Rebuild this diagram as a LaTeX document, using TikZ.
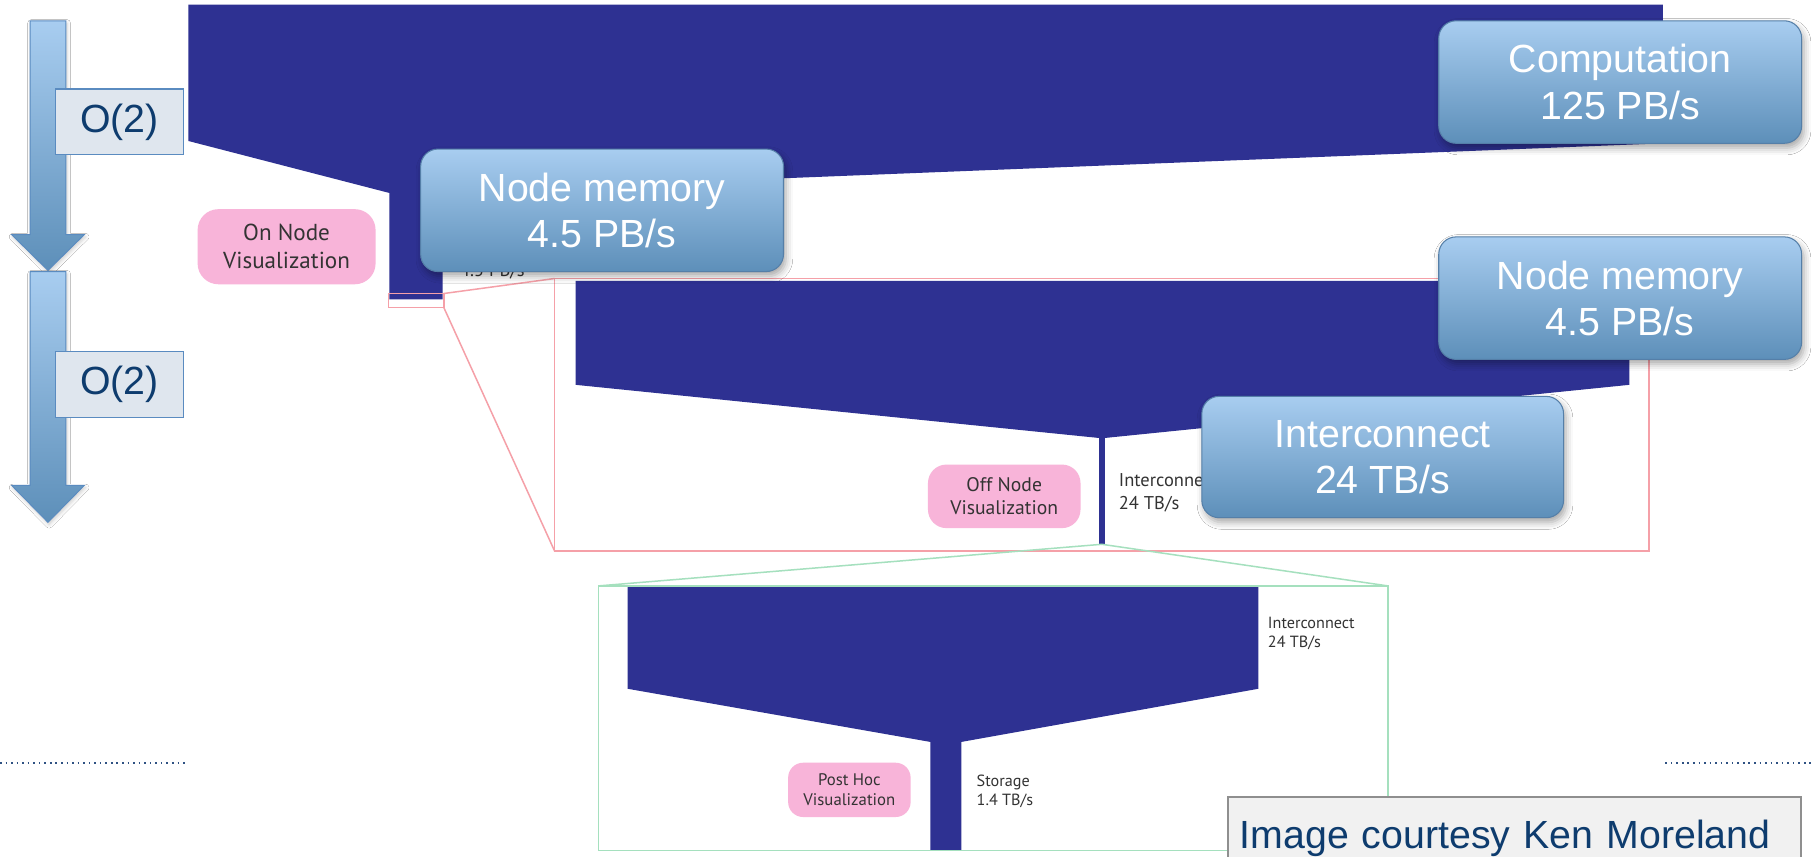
\documentclass[tikz,border=0pt]{standalone}
\usepackage{fontspec}
\setmainfont{Liberation Sans}
\newfontfamily\lblfont{PT Sans}
\usetikzlibrary{shadows.blur}

\definecolor{navyc}{HTML}{2E3192}
\definecolor{boxtop}{HTML}{A8CDF0}
\definecolor{boxbot}{HTML}{5D8FB9}
\definecolor{boxline}{HTML}{557FA8}
\definecolor{pinkc}{HTML}{F8B4D9}
\definecolor{lbltext}{HTML}{333333}
\definecolor{redline}{HTML}{F5A0A8}
\definecolor{greenline}{HTML}{A5E0BE}
\definecolor{otext}{HTML}{0E3C6E}
\definecolor{ofill}{HTML}{DFE6EE}
\definecolor{oline}{HTML}{5A8BC0}
\definecolor{notefill}{HTML}{F1F1F1}
\definecolor{noteline}{HTML}{8F8F8F}
\definecolor{dotc}{HTML}{2F5283}

\tikzset{
  funnel/.style={fill=navyc, draw=none},
  zoomred/.style={draw=redline, line width=1.3pt},
  zoomgreen/.style={draw=greenline, line width=1.3pt},
  bluebox/.style={rectangle, rounded corners=15pt, top color=boxtop, bottom color=boxbot,
    draw=boxline, line width=0.9pt, text=white, align=center, inner sep=0pt,
    minimum width=314pt, minimum height=106pt,
    font=\fontsize{34}{40}\selectfont,
    blur shadow={shadow xshift=2pt, shadow yshift=-4pt, shadow blur radius=6pt, shadow opacity=35}},
  pinkbox/.style={rectangle, rounded corners=18pt, fill=pinkc, draw=none,
    text=lbltext, align=center, inner sep=0pt},
  smalllbl/.style={font=\lblfont, text=lbltext, inner sep=0pt, align=left, anchor=north west},
  downarrow/.style={top color=boxtop, bottom color=boxbot, draw=oline, line width=0.8pt,
    blur shadow={shadow xshift=1pt, shadow yshift=-2pt, shadow blur radius=3pt, shadow opacity=20}},
  orderbox/.style={rectangle, fill=ofill, draw=oline, line width=1pt, text=otext,
    minimum width=111pt, minimum height=57pt, inner sep=0pt,
    font=\fontsize{34}{40}\selectfont},
  dotline/.style={draw=dotc, line width=1.4pt, dash pattern=on 1.4pt off 3.4pt},
  notebox/.style={rectangle, fill=notefill, draw=noteline, line width=1.5pt, text=otext,
    anchor=north west, align=left, inner xsep=10pt, inner ysep=14pt,
    text width=476pt, minimum height=72pt, font=\fontsize{34}{40}\selectfont}
}

\begin{document}
\begin{tikzpicture}[x=1pt, y=-1pt]
\path[use as bounding box, fill=white] (0,0) rectangle (1568,741);

% bandwidth funnels
\path[funnel] (163,4) -- (1439,4) -- (1439,124) -- (383,166) -- (383,259)
  -- (337,259) -- (337,167) -- (163,122) -- cycle;
\path[funnel] (498,243) -- (1410,243) -- (1410,333) -- (956,379) -- (956,471)
  -- (951,471) -- (951,379) -- (498,333) -- cycle;
\path[funnel] (543,507) -- (1089,507) -- (1089,596) -- (832,642) -- (832,736)
  -- (805,736) -- (805,642) -- (543,596) -- cycle;

% zoom frames
\coordinate (sTL) at (336,254);
\coordinate (sTR) at (384,254);
\coordinate (sBR) at (384,266);
\coordinate (mTL) at (480,241);
\coordinate (mBL) at (480,477);
\coordinate (mBR) at (1427,477);
\coordinate (apex) at (953.5,471);
\coordinate (gTL) at (518,507);
\coordinate (gTR) at (1201,507);
\coordinate (gBR) at (1201,736);
\draw[zoomred] (sTL) rectangle (sBR);
\draw[zoomred] (mTL) rectangle (mBR);
\draw[zoomred] (sTR) -- (mTL);
\draw[zoomred] (sBR) -- (mBL);
\draw[zoomgreen] (gTL) rectangle (gBR);
\draw[zoomgreen] (apex) -- (gTL);
\draw[zoomgreen] (apex) -- (gTR);

% small bandwidth labels
\node[smalllbl, font=\lblfont\fontsize{16}{20}\selectfont] (nmsmall) at (398,228) {4.5 PB/s};
\node[smalllbl, font=\lblfont\fontsize{16}{20}\selectfont] (icmid) at (968,409.5) {Interconnect\\24 TB/s};
\node[smalllbl, font=\lblfont\fontsize{14}{16.5}\selectfont] (iclow) at (1097,533.5) {Interconnect\\24 TB/s};
\node[smalllbl, font=\lblfont\fontsize{14}{17}\selectfont] (storage) at (845,670) {Storage\\1.4 TB/s};

% visualization stages
\node[pinkbox, minimum width=154pt, minimum height=65pt,
  font=\lblfont\fontsize{20}{24}\selectfont] (onnode) at (248,213.5) {On Node\\Visualization};
\node[pinkbox, minimum width=132pt, minimum height=55pt, rounded corners=16pt,
  font=\lblfont\fontsize{17}{19.5}\selectfont] (offnode) at (869,429.5) {Off Node\\Visualization};
\node[pinkbox, minimum width=106pt, minimum height=47pt, rounded corners=13pt,
  font=\lblfont\fontsize{14.5}{17}\selectfont] (posthoc) at (735,683.5) {Post Hoc\\Visualization};

% order-of-magnitude arrows
\path[downarrow] (26,18) -- (57,18) -- (57,203) -- (73,203) -- (41.5,234)
  -- (10,203) -- (26,203) -- cycle;
\path[downarrow] (26,235) -- (57,235) -- (57,420) -- (73,420) -- (41.5,452)
  -- (10,420) -- (26,420) -- cycle;
\node[orderbox] (o1) at (103.5,105.5) {O(2)};
\node[orderbox] (o2) at (103.5,332.5) {O(2)};

% bandwidth callouts
\node[bluebox] (comp) at (1402,71) {Computation\\125 PB/s};
\node[bluebox] (nodemem1) at (521,182) {Node memory\\4.5 PB/s};
\node[bluebox] (nodemem2) at (1402,258) {Node memory\\4.5 PB/s};
\node[bluebox, minimum width=313pt, minimum height=105pt] (intercon) at (1196.5,395.5) {Interconnect\\24 TB/s};

% footer rules
\coordinate (dl0) at (0,660);
\coordinate (dl1) at (163,660);
\coordinate (dr0) at (1441,660);
\coordinate (dr1) at (1568,660);
\draw[dotline] (dl0) -- (dl1);
\draw[dotline] (dr0) -- (dr1);

% credit
\node[notebox] (credit) at (1062,689) {Image courtesy Ken Moreland};
\end{tikzpicture}
\end{document}
